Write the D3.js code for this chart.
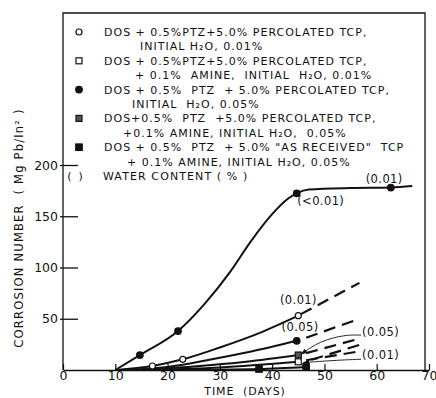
<!DOCTYPE html>
<html>
<head>
<meta charset="utf-8">
<script src="https://cdn.jsdelivr.net/npm/d3@7"></script>
<style>
body { margin: 0; background: #fff; }
svg text { font-family: "DejaVu Sans", sans-serif; fill: #111; white-space: pre; }
</style>
</head>
<body>
<div id="chart"></div>
<script>
// axis ticks
const dayTicks = [0, 10, 20, 30, 40, 50, 60, 70];
const corrosionTicks = [50, 100, 150, 200];

// [days, corrosion number]
const dotCurve = [[10,0],[14.7,14.6],[22,38],[27,64],[32,96],[36,126],[40,152],[43,167],[44.7,172.4],[47,176],[55,177.5],[62.7,178],[66.8,179.5]];
const dotPoints = [[14.7,14.6],[22,38],[44.7,172.4],[62.7,178]];

const openCurve = [[10,0],[17.1,3.9],[22.9,10.4],[30,22],[38,37],[45,53]];
const openPoints = [[17.1,3.9],[22.9,10.4],[45,53]];
const openDash = [[45.5,54.5],[56.7,85]];

const dot05Curve = [[12,0],[20,3],[28,10],[36,18],[44.7,28.5]];
const dot05Points = [[44.7,28.5]];
const dot05Dash = [[46.5,31.5],[56.7,50]];

const amine05Curve = [[13,0],[25,3.5],[35,8],[45,14.6]];
const amine05Points = [[45,14.6]];
const amine05Dash = [[46.5,16.5],[57,31]];

const amine01Curve = [[16,0],[30,2.5],[45,8]];
const amine01Points = [[45,8]];
const amine01Dash = [[46.5,9.5],[57,18.5]];

const asRecCurve = [[20,0],[37.5,1],[46.5,3]];
const asRecPoints = [[37.5,1],[46.5,3]];
const asRecDash = [[47.5,10],[57,25]];

// water content notes: text, day, corrosion
const waterNotes = [
    ["(0.01)", 57.9, 182.5],
    ["(<0.01)", 44.8, 161],
    ["(0.01)", 41.5, 64],
    ["(0.05)", 41.8, 38.5],
    ["(0.05)", 57.2, 33],
    ["(0.01)", 57.2, 11]
];
const leader05 = [[57,34],[54,34.5],[49,28],[45.6,15.5]];
const leader01 = [[57,10.5],[52,9.5],[46,7.2]];

const legendLines = [
    ["DOS + 0.5%PTZ+5.0% PERCOLATED TCP,", "INITIAL H₂O, 0.01%"],
    ["DOS + 0.5%PTZ+5.0% PERCOLATED TCP,", "+ 0.1%  AMINE,  INITIAL  H₂O, 0.01%"],
    ["DOS + 0.5%  PTZ  + 5.0% PERCOLATED TCP,", "INITIAL  H₂O, 0.05%"],
    ["DOS+0.5%  PTZ  +5.0% PERCOLATED TCP,", "+0.1% AMINE, INITIAL H₂O,  0.05%"],
    ["DOS + 0.5%  PTZ  + 5.0% \"AS RECEIVED\"  TCP", "+ 0.1% AMINE, INITIAL H₂O, 0.05%"]
];
const legendSymbols = ["openCircle", "openSquare", "dot", "greySquare", "blackSquare"];
const waterLegend = "WATER CONTENT ( % )";

const width = 436, height = 398;

const svg = d3.select("#chart").append("svg")
    .attr("width", width)
    .attr("height", height);

const x = d3.scaleLinear().domain([0, 70]).range([63, 429]);
const y = d3.scaleLinear().domain([0, 200]).range([370, 165]);
const frameTop = 13, frameRight = 425;

// arrowhead for leaders
svg.append("defs").append("marker")
    .attr("id", "arrow")
    .attr("viewBox", "0 0 10 10")
    .attr("refX", 9).attr("refY", 5)
    .attr("markerWidth", 7).attr("markerHeight", 7)
    .attr("orient", "auto")
    .append("path")
    .attr("d", "M0,1 L10,5 L0,9 Z")
    .attr("fill", "#111");

// frame
svg.append("path")
    .attr("d", `M${x(0)},${y(0)} V${frameTop} H${frameRight} V${y(0)}`)
    .attr("fill", "none")
    .attr("stroke", "#111")
    .attr("stroke-width", 1.3);

// x axis
const xAxis = svg.append("g")
    .attr("transform", `translate(0,${y(0)})`)
    .call(d3.axisBottom(x).tickValues(dayTicks).tickSizeInner(-6).tickSizeOuter(0).tickPadding(1));
xAxis.select(".domain").attr("stroke", "#111").attr("stroke-width", 1.6);
xAxis.selectAll(".tick line").attr("stroke", "#111").attr("stroke-width", 1.2);
xAxis.selectAll(".tick text").attr("font-size", 12.5).attr("fill", "#111").style("font-family", "DejaVu Sans");

// y axis
const yAxis = svg.append("g")
    .attr("transform", `translate(${x(0)},0)`)
    .call(d3.axisLeft(y).tickValues(corrosionTicks).tickSizeInner(-15).tickSizeOuter(0).tickPadding(5));
yAxis.select(".domain").remove();
yAxis.selectAll(".tick line").attr("x1", -3).attr("stroke", "#111").attr("stroke-width", 1.3);
yAxis.selectAll(".tick text").attr("font-size", 12.5).attr("fill", "#111").style("font-family", "DejaVu Sans");

svg.append("text")
    .attr("x", (x(0) + x(70)) / 2 - 1)
    .attr("y", 394.5)
    .attr("text-anchor", "middle")
    .attr("font-size", 11)
    .attr("letter-spacing", 0.9)
    .text("TIME  (DAYS)");

svg.append("text")
    .attr("transform", "translate(23,228) rotate(-90)")
    .attr("text-anchor", "middle")
    .attr("font-size", 11.5)
    .attr("letter-spacing", 1.2)
    .text("CORROSION NUMBER  ( Mg Pb/In² )");

// curves
const smooth = d3.line().x(d => x(d[0])).y(d => y(d[1])).curve(d3.curveMonotoneX);
const straight = d3.line().x(d => x(d[0])).y(d => y(d[1]));
const leaderLine = d3.line().x(d => x(d[0])).y(d => y(d[1])).curve(d3.curveBasis);

[dotCurve, openCurve, dot05Curve, amine05Curve, amine01Curve, asRecCurve].forEach(c => {
    svg.append("path")
        .attr("d", smooth(c))
        .attr("fill", "none")
        .attr("stroke", "#111")
        .attr("stroke-width", 2);
});

[openDash, dot05Dash, amine05Dash, amine01Dash, asRecDash].forEach(c => {
    svg.append("path")
        .attr("d", straight(c))
        .attr("fill", "none")
        .attr("stroke", "#111")
        .attr("stroke-width", 2.2)
        .attr("stroke-dasharray", "12,7");
});

// marker drawing
function drawSymbol(g, kind, cx, cy) {
    if (kind === "openCircle" || kind === "dot") {
        g.append("circle")
            .attr("cx", cx).attr("cy", cy)
            .attr("r", kind === "dot" ? 3.3 : 3)
            .attr("fill", kind === "dot" ? "#111" : "#fff")
            .attr("stroke", "#111")
            .attr("stroke-width", 1.2);
    } else {
        const s = kind === "blackSquare" ? 6.5 : 6;
        g.append("rect")
            .attr("x", cx - s / 2).attr("y", cy - s / 2)
            .attr("width", s).attr("height", s)
            .attr("fill", kind === "openSquare" ? "#fff" : kind === "greySquare" ? "#555" : "#111")
            .attr("stroke", "#111")
            .attr("stroke-width", 1.2);
    }
}

const markGroup = svg.append("g");
[[dotPoints, "dot"], [openPoints, "openCircle"], [dot05Points, "dot"],
 [amine05Points, "greySquare"], [amine01Points, "openSquare"], [asRecPoints, "blackSquare"]]
    .forEach(([pts, kind]) => pts.forEach(p => drawSymbol(markGroup, kind, x(p[0]), y(p[1]))));

// leaders
[leader05, leader01].forEach(l => {
    svg.append("path")
        .attr("d", leaderLine(l))
        .attr("fill", "none")
        .attr("stroke", "#111")
        .attr("stroke-width", 0.9)
        .attr("marker-end", "url(#arrow)");
});

svg.append("g").selectAll("text")
    .data(waterNotes)
    .join("text")
    .attr("x", d => x(d[1]))
    .attr("y", d => y(d[2]))
    .attr("font-size", 11.5)
    .attr("letter-spacing", 0.4)
    .text(d => d[0]);

// legend
const legend = svg.append("g");
const rowStep = 14.4, firstRow = 32;
const indents = [140, 135, 132, 123, 127];
legendLines.forEach((lines, i) => {
    const cy = firstRow + rowStep * 2 * i;
    drawSymbol(legend, legendSymbols[i], 79, cy);
    legend.append("text")
        .attr("x", 104).attr("y", cy + 4)
        .attr("font-size", 11)
        .attr("letter-spacing", 1.0)
        .text(lines[0]);
    legend.append("text")
        .attr("x", indents[i]).attr("y", cy + rowStep + 4)
        .attr("font-size", 11)
        .attr("letter-spacing", 1.0)
        .text(lines[1]);
});
const waterY = firstRow + rowStep * 10;
legend.append("text")
    .attr("x", 75).attr("y", waterY + 4)
    .attr("text-anchor", "middle")
    .attr("font-size", 11)
    .text("(  )");
legend.append("text")
    .attr("x", 103).attr("y", waterY + 4)
    .attr("font-size", 11)
    .attr("letter-spacing", 1.1)
    .text(waterLegend);
</script>
</body>
</html>
